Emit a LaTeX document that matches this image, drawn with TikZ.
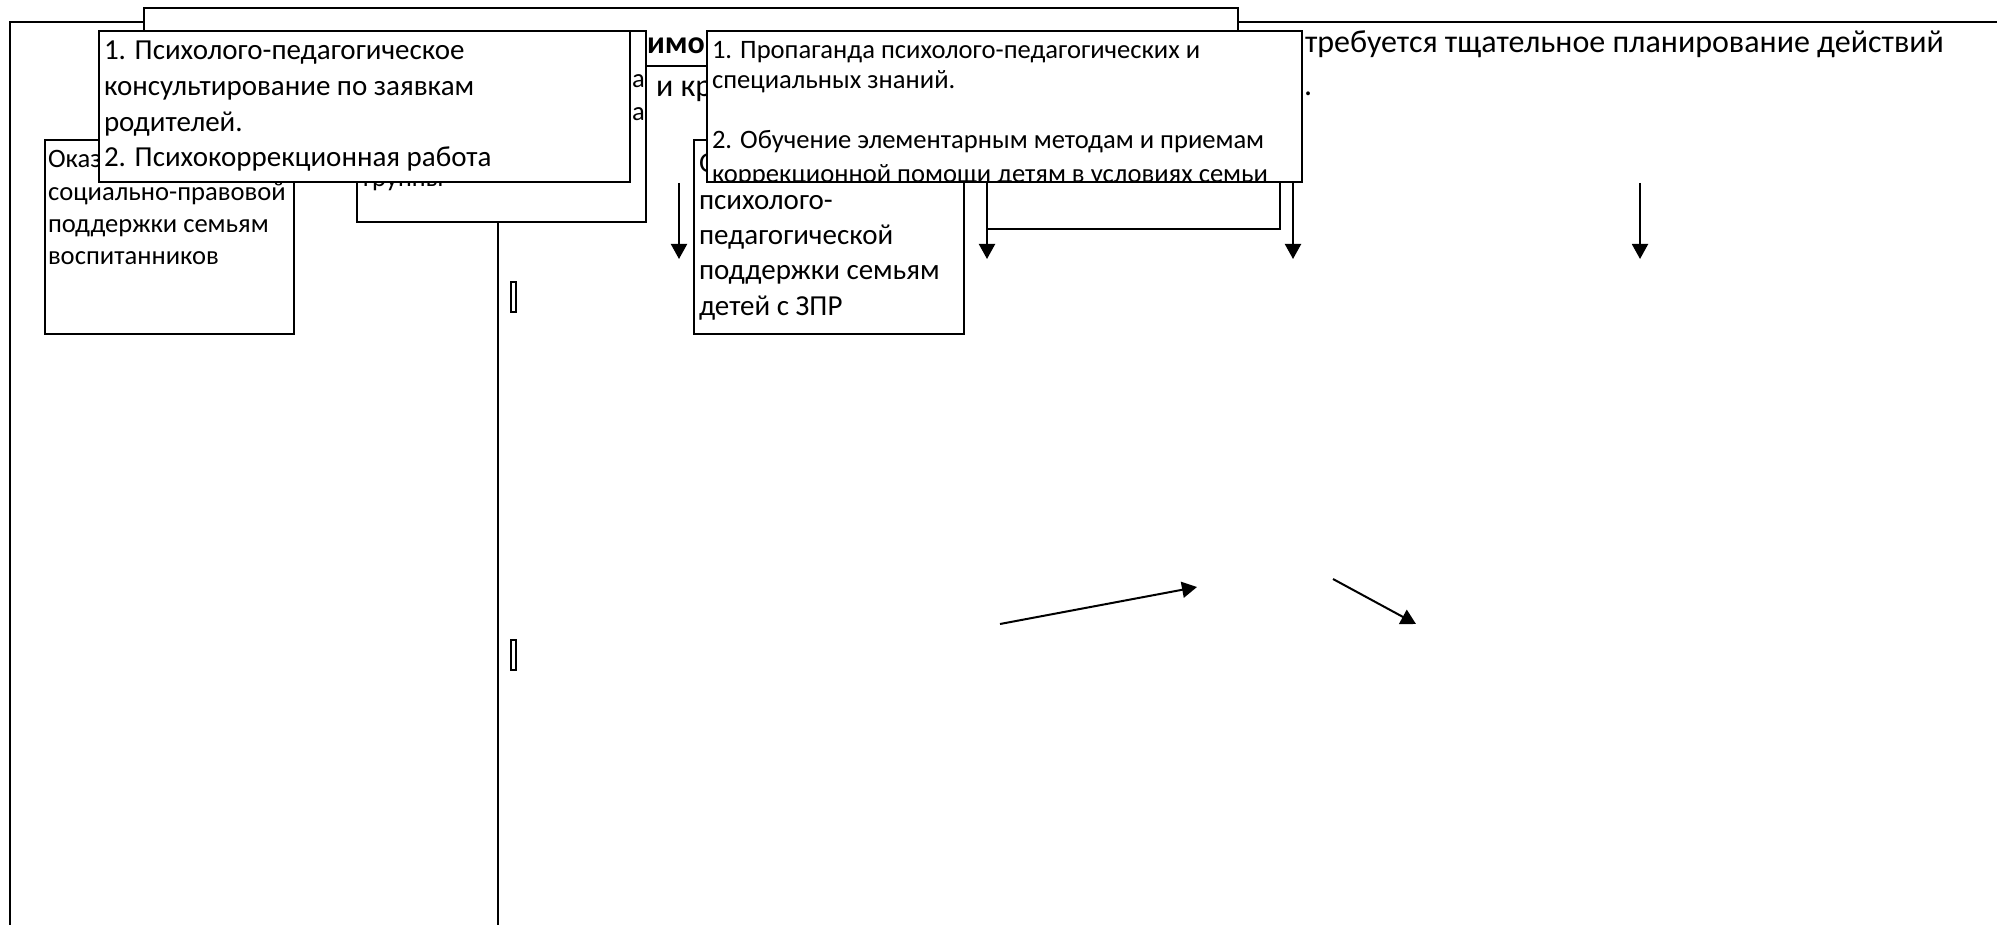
\documentclass[tikz,border=0pt]{standalone}
\usepackage{fontspec}
\setmainfont{Carlito}
\usetikzlibrary{arrows.meta}
\begin{document}
\begin{tikzpicture}[x=0.5pt,y=-0.5pt,
  panel/.style={draw, fill=white, line width=1pt, anchor=north west, inner sep=0pt, outer sep=0pt},
  txt/.style={anchor=base west, inner sep=0pt, outer sep=0pt},
  fbig/.style={font=\fontsize{16}{20}\selectfont},
  fbold/.style={font=\fontsize{16}{20}\selectfont\bfseries},
  fmid/.style={font=\fontsize{14.5}{18}\selectfont},
  fsmall/.style={font=\fontsize{13.3}{16}\selectfont},
  frame/.style={line width=1.3pt},
  arr/.style={line width=1pt, -{Triangle[width=8pt,length=7.5pt]}},
  cursor/.style={draw, line width=0.6pt, fill=white, anchor=north west, inner sep=0pt, outer sep=0pt, minimum width=2.5pt, minimum height=15pt}
]
\useasboundingbox (0,0) rectangle (1997,925);
% outer frame
\coordinate (fTL) at (10,22);
\coordinate (fTR) at (1997,22);
\coordinate (fBL) at (10,925);
\draw[frame] (fBL) -- (fTL) -- (fTR);

% background text
\node[txt, fbig] (bg1) at (1305,53) {требуется тщательное планирование действий};
\node[txt, fbig] (bg2) at (1304,96) {.};
\node[txt, fbig] (bg3) at (656,97) {и кр};

% title box
\node[panel, minimum width=547pt, minimum height=29pt] (title) at (144,8) {};
\node[txt, fbold] (titletxt) at (647,54) {имо};

% group box
\node[panel, minimum width=144.5pt, minimum height=95.5pt] (group) at (357,31) {};
\node[txt, fsmall] (g1) at (632,88) {а};
\node[txt, fsmall] (g2) at (632,121) {а};
\node[txt, fsmall] (g4) at (363,187) {группы};

% left box
\node[panel, minimum width=124.5pt, minimum height=97pt] (okaz) at (45,140) {};
\node[txt, fsmall] (o1) at (48,168) {Оказ};
\node[txt, fsmall] (o2) at (48,200.5) {социально-правовой};
\node[txt, fsmall] (o3) at (48,233) {поддержки семьям};
\node[txt, fsmall] (o4) at (48,265) {воспитанников};

% ZPR box
\node[panel, minimum width=135pt, minimum height=97pt] (zpr) at (694,140) {};
\node[txt, fmid] (z1) at (699,173) {О};
\node[txt, fmid] (z2) at (699,210) {психолого-};
\node[txt, fmid] (z3) at (699,245) {педагогической};
\node[txt, fmid] (z4) at (699,280) {поддержки семьям};
\node[txt, fmid] (z5) at (699,315) {детей с ЗПР};

% box under the propaganda box
\node[panel, minimum width=146.5pt, minimum height=34.5pt] (under) at (987,160) {};

% consultation box
\node[panel, minimum width=265.5pt, minimum height=75.5pt] (consult) at (99,31) {};
\node[txt, fmid] (c1) at (104,60) {1. Психолого-педагогическое};
\node[txt, fmid] (c2) at (104,96) {консультирование по заявкам};
\node[txt, fmid] (c3) at (104,131.5) {родителей.};
\node[txt, fmid] (c4) at (104,167) {2. Психокоррекционная работа};

% propaganda box
\node[panel, minimum width=297.5pt, minimum height=75.5pt] (prop) at (707,31) {};
\begin{scope}
\clip (prop.north west) rectangle (prop.south east);
\node[txt, fsmall] (p1) at (712,58.5) {1. Пропаганда психолого-педагогических и};
\node[txt, fsmall] (p2) at (712,89) {специальных знаний.};
\node[txt, fsmall] (p4) at (712,149) {2. Обучение элементарным методам и приемам};
\node[txt, fsmall] (p5) at (712,182.5) {коррекционной помощи детям в условиях семьи};
\end{scope}

% divider
\coordinate (d1) at (498,222);
\coordinate (d2) at (498,925);
\draw[frame] (d1) -- (d2);

% vertical arrows
\coordinate (a1s) at (679,183);  \coordinate (a1e) at (679,259);
\coordinate (a2s) at (987,182);  \coordinate (a2e) at (987,259);
\coordinate (a3s) at (1293,182); \coordinate (a3e) at (1293,259);
\coordinate (a4s) at (1640,183); \coordinate (a4e) at (1640,259);
\draw[arr] (a1s) -- (a1e);
\draw[arr] (a2s) -- (a2e);
\draw[arr] (a3s) -- (a3e);
\draw[arr] (a4s) -- (a4e);

% diagonal arrows
\coordinate (b1s) at (1000,624); \coordinate (b1e) at (1197,587);
\coordinate (b2s) at (1333,579); \coordinate (b2e) at (1416,624);
\draw[arr] (b1s) -- (b1e);
\draw[arr] (b2s) -- (b2e);

% small cursor marks
\node[cursor] (r1) at (511,282) {};
\node[cursor] (r2) at (511,640) {};
\end{tikzpicture}
\end{document}
